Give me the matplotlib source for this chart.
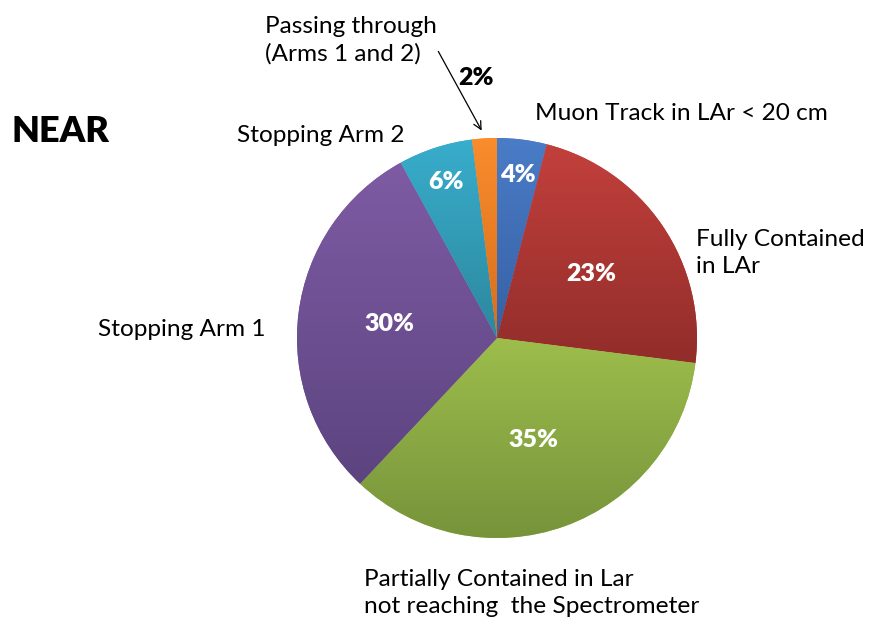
import matplotlib
matplotlib.use("Agg")
import matplotlib.pyplot as plt
import numpy as np
from matplotlib.colors import to_rgb

# slice data, clockwise from 12 o'clock
categories = ["Muon Track in LAr < 20 cm", "Fully Contained\nin LAr",
              "Partially Contained in Lar\nnot reaching  the Spectrometer",
              "Stopping Arm 1", "Stopping Arm 2", "Passing through\n(Arms 1 and 2)"]
shares = [4, 23, 35, 30, 6, 2]
pct_labels = ["4%", "23%", "35%", "30%", "6%", "2%"]
top_colors = ["#4a7cc7", "#c2403c", "#9dbd4c", "#7e5ba4", "#38adcc", "#fa8c2c"]
bot_colors = ["#3660a4", "#922d2a", "#76933a", "#5c4480", "#2d889e", "#d66e1c"]

plt.rcParams['font.family'] = ['Lato', 'DejaVu Sans']

W, H = 873, 624
fig = plt.figure(figsize=(W / 100, H / 100), dpi=100)
ax = fig.add_axes([0, 0, 1, 1])

def py(y):
    # pixel row (from top) -> data y
    return H - y

cx, cy, R = 497, py(338), 200
wedges, _ = ax.pie(shares, startangle=90, counterclock=False, center=(cx, cy),
                   radius=R, colors=top_colors, wedgeprops=dict(linewidth=0))

# vertical gradient per wedge
for w, c0, c1 in zip(wedges, top_colors, bot_colors):
    verts = w.get_path().vertices
    x0, x1 = verts[:, 0].min(), verts[:, 0].max()
    y0, y1 = verts[:, 1].min(), verts[:, 1].max()
    t = np.linspace(0, 1, 64)[:, None]
    grad = (1 - t) * np.array(to_rgb(c0)) + t * np.array(to_rgb(c1))
    img = ax.imshow(grad[:, None, :], extent=(x0, x1, y0, y1), origin='upper',
                    aspect='auto', interpolation='bilinear', zorder=w.get_zorder() + 0.1)
    img.set_clip_path(w)

# percentage labels inside slices
label_r = [0.82, 0.57, 0.54, 0.54, 0.82, None]
for w, lab, rf in zip(wedges, pct_labels, label_r):
    if rf is None:
        continue
    ang = np.deg2rad((w.theta1 + w.theta2) / 2)
    ax.text(cx + rf * R * np.cos(ang), cy + rf * R * np.sin(ang), lab,
            color="white", fontsize=18, fontweight="heavy", ha="center", va="center", zorder=5)

# category labels
fs = 17.6
ax.text(535, py(113), categories[0], fontsize=fs, ha="left", va="center")
ax.text(696, py(253), categories[1], fontsize=fs, ha="left", va="center", linespacing=1.4)
ax.text(364, py(593), categories[2], fontsize=fs, ha="left", va="center", linespacing=1.35)
ax.text(98, py(330), categories[3], fontsize=fs, ha="left", va="center")
ax.text(237, py(135), categories[4], fontsize=fs, ha="left", va="center")
ax.text(265, py(40), categories[5], fontsize=fs, ha="left", va="center", linespacing=1.35)
ax.text(476, py(78), pct_labels[5], fontsize=18, fontweight="heavy", ha="center", va="center")
ax.annotate("", xy=(483, py(133)), xytext=(437, py(49)),
            arrowprops=dict(arrowstyle="->", color="black", lw=0.9, mutation_scale=14))

ax.text(12, py(132), "NEAR", fontsize=26, fontweight="heavy", ha="left", va="center")

ax.set_xlim(0, W)
ax.set_ylim(0, H)
ax.set_aspect('equal')
ax.axis('off')
fig.savefig("out.png", dpi=100, facecolor="white")
